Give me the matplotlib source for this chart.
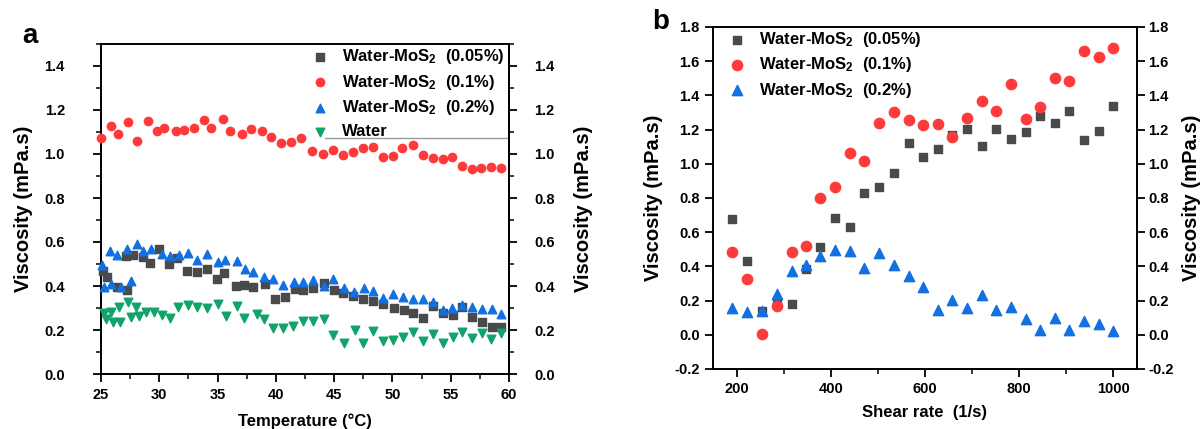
import matplotlib
matplotlib.use("Agg")
import matplotlib.pyplot as plt
from matplotlib.ticker import MultipleLocator
from matplotlib.lines import Line2D

plt.rcParams['font.family'] = ['Liberation Sans', 'DejaVu Sans']
plt.rcParams['font.weight'] = 'bold'
plt.rcParams['axes.labelweight'] = 'bold'
plt.rcParams['mathtext.fontset'] = 'custom'
plt.rcParams['mathtext.rm'] = 'Liberation Sans:bold'
plt.rcParams['mathtext.bf'] = 'Liberation Sans:bold'
plt.rcParams['mathtext.default'] = 'rm'

# ---------------- Panel a data (Temperature, Viscosity) ----------------
a_gray_x = [25.2, 25.5, 26.4, 27.14, 27.2, 27.72, 28.63, 29.2, 30.0, 30.83, 31.55, 32.35, 33.2,
            34.06, 34.92, 35.55, 36.55, 37.26, 38.06, 39.06, 39.92, 40.78, 41.6, 42.35, 43.15,
            44.15, 44.98, 45.73, 46.64, 47.5, 48.3, 49.21, 50.13, 50.99, 51.79, 52.59, 53.45,
            54.36, 55.21, 55.99, 56.85, 57.65, 58.51, 59.33]
a_gray_y = [0.47, 0.44, 0.397, 0.536, 0.382, 0.541, 0.533, 0.503, 0.567, 0.498, 0.529, 0.47, 0.465,
            0.479, 0.432, 0.458, 0.40, 0.406, 0.395, 0.41, 0.342, 0.348, 0.388, 0.382, 0.391,
            0.412, 0.382, 0.37, 0.356, 0.342, 0.333, 0.32, 0.298, 0.291, 0.277, 0.256, 0.309,
            0.277, 0.268, 0.306, 0.259, 0.238, 0.214, 0.214]

a_red_x = [25.0, 25.83, 26.43, 27.29, 28.06, 29.06, 29.77, 30.4, 31.43, 32.09, 32.95, 33.83, 34.43,
           35.43, 36.09, 37.12, 37.86, 38.78, 39.58, 40.41, 41.3, 42.18, 43.12, 44.04, 44.87,
           45.73, 46.59, 47.47, 48.3, 49.16, 50.02, 50.84, 51.76, 52.62, 53.45, 54.3, 55.13,
           55.99, 56.82, 57.62, 58.47, 59.3]
a_red_y = [1.074, 1.127, 1.091, 1.145, 1.058, 1.148, 1.105, 1.12, 1.105, 1.111, 1.118, 1.155, 1.12,
           1.159, 1.106, 1.089, 1.114, 1.105, 1.079, 1.05, 1.056, 1.074, 1.015, 1.001, 1.018,
           0.994, 1.009, 1.029, 1.033, 0.985, 0.991, 1.026, 1.041, 0.994, 0.983, 0.976, 0.985,
           0.947, 0.93, 0.935, 0.942, 0.936]

a_blue_x = [25.1, 25.26, 25.77, 25.83, 26.4, 26.69, 27.2, 27.55, 28.06, 28.63, 29.29, 30.26, 30.92,
            31.72, 32.43, 33.26, 34.06, 35.0, 35.63, 36.63, 37.35, 38.0, 38.98, 39.78, 40.64,
            41.55, 42.35, 43.15, 44.12, 44.92, 45.86, 46.72, 47.58, 48.3, 49.16, 50.07, 50.93,
            51.79, 52.59, 53.45, 54.3, 55.13, 55.99, 56.85, 57.65, 58.51, 59.33]
a_blue_y = [0.495, 0.394, 0.561, 0.409, 0.539, 0.397, 0.57, 0.424, 0.589, 0.559, 0.57, 0.547, 0.538,
            0.541, 0.552, 0.518, 0.544, 0.509, 0.52, 0.514, 0.476, 0.462, 0.442, 0.432, 0.403,
            0.42, 0.417, 0.429, 0.40, 0.432, 0.391, 0.374, 0.39, 0.377, 0.347, 0.362, 0.35,
            0.34, 0.34, 0.326, 0.291, 0.30, 0.314, 0.303, 0.294, 0.295, 0.274]

a_green_x = [25.26, 25.43, 25.83, 26.0, 26.57, 26.63, 27.29, 27.57, 28.0, 28.29, 28.83, 29.55, 30.26,
             30.92, 31.63, 32.43, 33.26, 34.06, 35.0, 35.7, 36.63, 37.29, 38.35, 39.0, 39.78,
             40.58, 41.49, 42.35, 43.21, 44.12, 44.87, 45.86, 46.78, 47.44, 48.3, 49.21, 50.07,
             50.93, 51.79, 52.59, 53.45, 54.3, 55.16, 55.99, 56.85, 57.65, 58.45, 59.33]
a_green_y = [0.276, 0.25, 0.282, 0.235, 0.306, 0.235, 0.329, 0.261, 0.306, 0.262, 0.283, 0.28, 0.27,
             0.255, 0.306, 0.312, 0.306, 0.298, 0.317, 0.264, 0.309, 0.256, 0.271, 0.25, 0.208,
             0.211, 0.22, 0.242, 0.242, 0.248, 0.177, 0.142, 0.20, 0.142, 0.195, 0.152, 0.155,
             0.167, 0.189, 0.152, 0.18, 0.139, 0.17, 0.189, 0.162, 0.185, 0.159, 0.185]

# ---------------- Panel b data (Shear rate, Viscosity) ----------------
b_x = [191, 223, 255, 285, 317, 348, 378, 410, 440, 470, 503, 534, 565, 596, 627, 658, 689,
       721, 751, 783, 814, 845, 875, 906, 938, 969, 1000]
b_gray_y = [0.676, 0.43, 0.141, 0.20, 0.18, 0.382, 0.516, 0.684, 0.633, 0.827, 0.867, 0.949, 1.122,
            1.039, 1.088, 1.17, 1.206, 1.104, 1.206, 1.147, 1.186, 1.28, 1.241, 1.308, 1.139,
            1.194, 1.337]
b_red_y = [0.486, 0.324, 0.006, 0.17, 0.484, 0.52, 0.80, 0.863, 1.061, 1.014, 1.237, 1.302, 1.255,
           1.225, 1.231, 1.157, 1.27, 1.37, 1.31, 1.467, 1.26, 1.331, 1.504, 1.486, 1.661,
           1.626, 1.676]
b_blue_y = [0.157, 0.135, 0.137, 0.237, 0.375, 0.406, 0.46, 0.498, 0.492, 0.39, 0.479, 0.407, 0.342,
            0.28, 0.147, 0.202, 0.159, 0.235, 0.143, 0.163, 0.094, 0.029, 0.10, 0.027, 0.078,
            0.065, 0.02]

labels = ['Water-MoS$_2$  (0.05%)', 'Water-MoS$_2$  (0.1%)', 'Water-MoS$_2$  (0.2%)', 'Water']
c_gray, c_red, c_blue, c_green = '#4a4a4a', '#ff3a3a', '#1270e0', '#10a36a'

W, H = 1204, 429
fig = plt.figure(figsize=(W / 100, H / 100), dpi=100)


def px_axes(l, t, r, b):
    return fig.add_axes([l / W, 1 - b / H, (r - l) / W, (b - t) / H])


def style_ticks(a, ypad, minor=True):
    a.tick_params(which='major', direction='out', length=6, width=1.3, labelsize=10.5)
    if minor:
        a.tick_params(which='minor', direction='out', length=3.5, width=1.1)


# ---------------- Panel a ----------------
axa = px_axes(101, 44, 509, 374)
axa.scatter(a_gray_x, a_gray_y, marker='s', s=26, color=c_gray, label=labels[0], clip_on=False, zorder=3)
axa.scatter(a_red_x, a_red_y, marker='o', s=36, color=c_red, label=labels[1], clip_on=False, zorder=3)
axa.scatter(a_blue_x, a_blue_y, marker='^', s=38, color=c_blue, label=labels[2], clip_on=False, zorder=3)
axa.scatter(a_green_x, a_green_y, marker='v', s=38, color=c_green, label=labels[3], clip_on=False, zorder=3)
axa.set_xlim(25, 60)
axa.set_ylim(0, 1.5)
axa.xaxis.set_major_locator(MultipleLocator(5))
axa.xaxis.set_minor_locator(MultipleLocator(2.5))
axa.yaxis.set_major_locator(MultipleLocator(0.2))
axa.yaxis.set_minor_locator(MultipleLocator(0.1))
axa.yaxis.set_major_formatter(plt.FormatStrFormatter('%.1f'))
for s in axa.spines.values():
    s.set_linewidth(1.4)
style_ticks(axa, 0)
axa.tick_params(axis='y', which='major', pad=20)
axa.tick_params(axis='x', which='major', pad=4)
axa.set_xlabel('Temperature (°C)', fontsize=12, labelpad=8)
axa.set_ylabel('Viscosity (mPa.s)', fontsize=14.5, labelpad=8)
sa = axa.secondary_yaxis('right')
sa.yaxis.set_major_locator(MultipleLocator(0.2))
sa.yaxis.set_minor_locator(MultipleLocator(0.1))
sa.yaxis.set_major_formatter(plt.FormatStrFormatter('%.1f'))
sa.spines['right'].set_linewidth(1.4)
style_ticks(sa, 0)
sa.tick_params(axis='y', which='major', pad=12)
sa.set_ylabel('Viscosity (mPa.s)', fontsize=14.5, labelpad=14)
axa.legend(loc='upper left', bbox_to_anchor=(312 / W, 1 - 47 / H), bbox_transform=fig.transFigure,
           frameon=False, fontsize=12, handlelength=1.0, handletextpad=0.8, borderpad=0,
           labelspacing=0.40, scatterpoints=1, borderaxespad=0)
axa.add_line(Line2D([0.549, 1.0], [0.715, 0.715], transform=axa.transAxes, color='#9a9a9a', lw=1.0))
fig.text(22 / W, 1 - 36 / H, 'a', fontsize=20, fontweight='bold', ha='left', va='center')

# ---------------- Panel b ----------------
axb = px_axes(713, 27, 1137, 369)
axb.scatter(b_x, b_gray_y, marker='s', s=40, color=c_gray, label=labels[0], zorder=3)
axb.scatter(b_x, b_red_y, marker='o', s=55, color=c_red, label=labels[1], zorder=3)
axb.scatter(b_x, b_blue_y, marker='^', s=55, color=c_blue, label=labels[2], zorder=3)
axb.set_xlim(150, 1050)
axb.set_ylim(-0.2, 1.8)
axb.xaxis.set_major_locator(MultipleLocator(200))
axb.xaxis.set_minor_locator(MultipleLocator(100))
axb.yaxis.set_major_locator(MultipleLocator(0.2))
axb.yaxis.set_major_formatter(plt.FormatStrFormatter('%.1f'))
for s in axb.spines.values():
    s.set_linewidth(1.4)
style_ticks(axb, 0)
axb.set_xlabel('Shear rate  (1/s)', fontsize=12, labelpad=6)
axb.set_ylabel('Viscosity (mPa.s)', fontsize=14.5, labelpad=8)
sb = axb.secondary_yaxis('right')
sb.yaxis.set_major_locator(MultipleLocator(0.2))
sb.yaxis.set_major_formatter(plt.FormatStrFormatter('%.1f'))
sb.spines['right'].set_linewidth(1.4)
style_ticks(sb, 0, minor=False)
sb.tick_params(axis='y', which='major', pad=2)
sb.set_ylabel('Viscosity (mPa.s)', fontsize=14.5, labelpad=6)
axb.legend(loc='upper left', bbox_to_anchor=(729 / W, 1 - 30 / H), bbox_transform=fig.transFigure,
           frameon=False, fontsize=12, handlelength=1.0, handletextpad=0.8, borderpad=0,
           labelspacing=0.38, scatterpoints=1, borderaxespad=0)
fig.text(652 / W, 1 - 22 / H, 'b', fontsize=20, fontweight='bold', ha='left', va='center')

fig.savefig('out.png', dpi=100)
